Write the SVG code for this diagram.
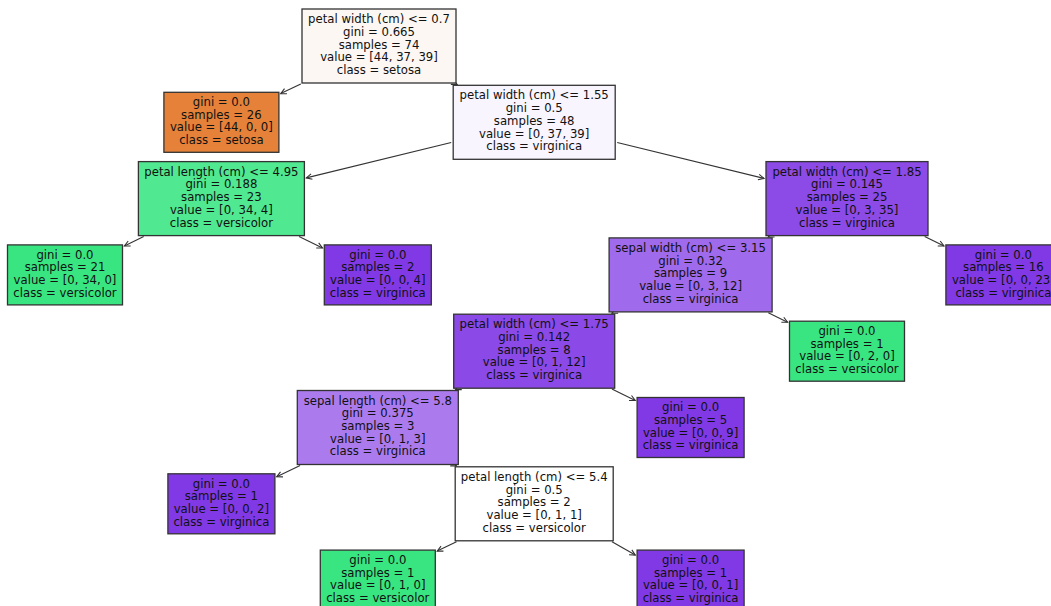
<svg xmlns="http://www.w3.org/2000/svg" width="1051" height="606" viewBox="0 0 1051 606">
<style>
  rect.box { stroke: #333; stroke-width: 1.3; }
  text { font-family: "DejaVu Sans", "Liberation Sans", sans-serif; font-size: 11.7px; fill: #111; text-anchor: middle; }
  .conn line { stroke: #333; stroke-width: 1.1; fill: none; marker-end: url(#ah); }
</style>
<defs>
  <marker id="ah" markerUnits="userSpaceOnUse" markerWidth="9" markerHeight="8" viewBox="-8 -4 9 8" refX="0" refY="0" orient="auto" overflow="visible">
    <path d="M-5.6,-2.8 L0,0 L-5.6,2.8" fill="none" stroke="#333" stroke-width="1.1"/>
  </marker>
</defs>
<rect width="1051" height="606" fill="#fff"/>
<g id="connectors" class="conn">
  <line x1="300.8" y1="83.9" x2="280.7" y2="93.6"/>
  <line x1="456.1" y1="83.9" x2="457.1" y2="84.4"/>
  <line x1="451.2" y1="142.5" x2="306.3" y2="177.9"/>
  <line x1="617.2" y1="142.5" x2="764" y2="178.4"/>
  <line x1="143.7" y1="236.5" x2="124.4" y2="246.0"/>
  <line x1="299.05" y1="236.5" x2="322.5" y2="247.9"/>
  <line x1="769.3" y1="236.5" x2="768.3" y2="237.0"/>
  <line x1="924.7" y1="236.5" x2="944.0" y2="246.0"/>
  <line x1="612.9" y1="312.8" x2="611.9" y2="313.3"/>
  <line x1="768.3" y1="312.8" x2="787.6" y2="322.2"/>
  <line x1="456.5" y1="389.1" x2="455.5" y2="389.6"/>
  <line x1="611.9" y1="389.1" x2="635.3" y2="400.5"/>
  <line x1="300.1" y1="465.4" x2="276.7" y2="476.8"/>
  <line x1="455.5" y1="465.4" x2="456.5" y2="465.9"/>
  <line x1="456.5" y1="541.7" x2="437.2" y2="551.1"/>
  <line x1="612.0" y1="541.7" x2="635.3" y2="555.1"/>
</g>
<g id="n0">
  <rect class="box" x="302" y="9" width="154" height="74" fill="#fdf7f3"/>
  <text><tspan x="379" y="23.1">petal width (cm) &lt;= 0.7</tspan><tspan x="379" y="35.8">gini = 0.665</tspan><tspan x="379" y="48.5">samples = 74</tspan><tspan x="379" y="61.2">value = [44, 37, 39]</tspan><tspan x="379" y="73.9">class = setosa</tspan></text>
</g>
<g id="n1">
  <rect class="box" x="163.9" y="92.3" width="115" height="60" fill="#e58139"/>
  <text><tspan x="221.4" y="106.05">gini = 0.0</tspan><tspan x="221.4" y="118.75">samples = 26</tspan><tspan x="221.4" y="131.45">value = [44, 0, 0]</tspan><tspan x="221.4" y="144.15">class = setosa</tspan></text>
</g>
<g id="n2">
  <rect class="box" x="453.2" y="85.3" width="162" height="74" fill="#f8f5fe"/>
  <text><tspan x="534.2" y="99.4">petal width (cm) &lt;= 1.55</tspan><tspan x="534.2" y="112.1">gini = 0.5</tspan><tspan x="534.2" y="124.8">samples = 48</tspan><tspan x="534.2" y="137.5">value = [0, 37, 39]</tspan><tspan x="534.2" y="150.2">class = virginica</tspan></text>
</g>
<g id="n3">
  <rect class="box" x="138.4" y="161.6" width="166" height="74" fill="#50e890"/>
  <text><tspan x="221.4" y="175.7">petal length (cm) &lt;= 4.95</tspan><tspan x="221.4" y="188.4">gini = 0.188</tspan><tspan x="221.4" y="201.1">samples = 23</tspan><tspan x="221.4" y="213.8">value = [0, 34, 4]</tspan><tspan x="221.4" y="226.5">class = versicolor</tspan></text>
</g>
<g id="n4">
  <rect class="box" x="7.5" y="244.9" width="115" height="60" fill="#39e581"/>
  <text><tspan x="65" y="258.65">gini = 0.0</tspan><tspan x="65" y="271.35">samples = 21</tspan><tspan x="65" y="284.05">value = [0, 34, 0]</tspan><tspan x="65" y="296.75">class = versicolor</tspan></text>
</g>
<g id="n5">
  <rect class="box" x="324.3" y="244.9" width="107" height="60" fill="#8139e5"/>
  <text><tspan x="377.8" y="258.65">gini = 0.0</tspan><tspan x="377.8" y="271.35">samples = 2</tspan><tspan x="377.8" y="284.05">value = [0, 0, 4]</tspan><tspan x="377.8" y="296.75">class = virginica</tspan></text>
</g>
<g id="n6">
  <rect class="box" x="766" y="161.6" width="162" height="74" fill="#8c4ae7"/>
  <text><tspan x="847" y="175.7">petal width (cm) &lt;= 1.85</tspan><tspan x="847" y="188.4">gini = 0.145</tspan><tspan x="847" y="201.1">samples = 25</tspan><tspan x="847" y="213.8">value = [0, 3, 35]</tspan><tspan x="847" y="226.5">class = virginica</tspan></text>
</g>
<g id="n7">
  <rect class="box" x="609.1" y="237.9" width="163" height="74" fill="#a06aec"/>
  <text><tspan x="690.6" y="252.0">sepal width (cm) &lt;= 3.15</tspan><tspan x="690.6" y="264.7">gini = 0.32</tspan><tspan x="690.6" y="277.4">samples = 9</tspan><tspan x="690.6" y="290.1">value = [0, 3, 12]</tspan><tspan x="690.6" y="302.8">class = virginica</tspan></text>
</g>
<g id="n8">
  <rect class="box" x="945.9" y="244.9" width="115" height="60" fill="#8139e5"/>
  <text><tspan x="1003.4" y="258.65">gini = 0.0</tspan><tspan x="1003.4" y="271.35">samples = 16</tspan><tspan x="1003.4" y="284.05">value = [0, 0, 23]</tspan><tspan x="1003.4" y="296.75">class = virginica</tspan></text>
</g>
<g id="n9">
  <rect class="box" x="453.7" y="314.2" width="161" height="74" fill="#8b49e7"/>
  <text><tspan x="534.2" y="328.3">petal width (cm) &lt;= 1.75</tspan><tspan x="534.2" y="341.0">gini = 0.142</tspan><tspan x="534.2" y="353.7">samples = 8</tspan><tspan x="534.2" y="366.4">value = [0, 1, 12]</tspan><tspan x="534.2" y="379.1">class = virginica</tspan></text>
</g>
<g id="n10">
  <rect class="box" x="789.5" y="321.2" width="115" height="60" fill="#39e581"/>
  <text><tspan x="847" y="334.95">gini = 0.0</tspan><tspan x="847" y="347.65">samples = 1</tspan><tspan x="847" y="360.35">value = [0, 2, 0]</tspan><tspan x="847" y="373.05">class = versicolor</tspan></text>
</g>
<g id="n11">
  <rect class="box" x="297.3" y="390.5" width="161" height="74" fill="#ab7bee"/>
  <text><tspan x="377.8" y="404.6">sepal length (cm) &lt;= 5.8</tspan><tspan x="377.8" y="417.3">gini = 0.375</tspan><tspan x="377.8" y="430.0">samples = 3</tspan><tspan x="377.8" y="442.7">value = [0, 1, 3]</tspan><tspan x="377.8" y="455.4">class = virginica</tspan></text>
</g>
<g id="n12">
  <rect class="box" x="637.1" y="397.5" width="107" height="60" fill="#8139e5"/>
  <text><tspan x="690.6" y="411.25">gini = 0.0</tspan><tspan x="690.6" y="423.95">samples = 5</tspan><tspan x="690.6" y="436.65">value = [0, 0, 9]</tspan><tspan x="690.6" y="449.35">class = virginica</tspan></text>
</g>
<g id="n13">
  <rect class="box" x="167.9" y="473.8" width="107" height="60" fill="#8139e5"/>
  <text><tspan x="221.4" y="487.55">gini = 0.0</tspan><tspan x="221.4" y="500.25">samples = 1</tspan><tspan x="221.4" y="512.95">value = [0, 0, 2]</tspan><tspan x="221.4" y="525.65">class = virginica</tspan></text>
</g>
<g id="n14">
  <rect class="box" x="455.2" y="466.8" width="158" height="74" fill="#ffffff"/>
  <text><tspan x="534.2" y="480.9">petal length (cm) &lt;= 5.4</tspan><tspan x="534.2" y="493.6">gini = 0.5</tspan><tspan x="534.2" y="506.3">samples = 2</tspan><tspan x="534.2" y="519.0">value = [0, 1, 1]</tspan><tspan x="534.2" y="531.7">class = versicolor</tspan></text>
</g>
<g id="n15">
  <rect class="box" x="320.3" y="550.1" width="115" height="60" fill="#39e581"/>
  <text><tspan x="377.8" y="563.85">gini = 0.0</tspan><tspan x="377.8" y="576.55">samples = 1</tspan><tspan x="377.8" y="589.25">value = [0, 1, 0]</tspan><tspan x="377.8" y="601.95">class = versicolor</tspan></text>
</g>
<g id="n16">
  <rect class="box" x="637.1" y="550.1" width="107" height="60" fill="#8139e5"/>
  <text><tspan x="690.6" y="563.85">gini = 0.0</tspan><tspan x="690.6" y="576.55">samples = 1</tspan><tspan x="690.6" y="589.25">value = [0, 0, 1]</tspan><tspan x="690.6" y="601.95">class = virginica</tspan></text>
</g>
</svg>
